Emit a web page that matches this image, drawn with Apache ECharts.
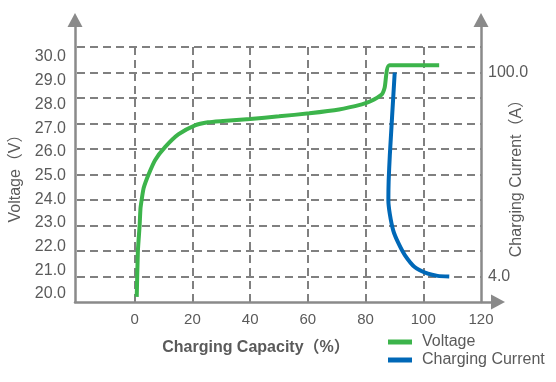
<!DOCTYPE html>
<html>
<head>
<meta charset="utf-8">
<script src="https://cdn.jsdelivr.net/npm/echarts@6/dist/echarts.min.js"></script>
<style>html,body{margin:0;padding:0;background:#fff;}#c{width:556px;height:382px;}</style>
</head>
<body>
<div id="c"></div>
<script>
// ---- data ----
const voltageX = [0.7, 1.1, 1.7, 2.0, 2.4, 3.1, 4.8, 7.1, 10.5, 15.1, 20.9, 25.4, 30.6, 40, 50, 60.5, 70.8, 78.7, 81.5, 85.6, 86.6, 88.3, 105.5];
const voltageY = [20.2, 22.0, 23.0, 23.67, 24.0, 24.47, 25.0, 25.57, 26.07, 26.57, 26.93, 27.05, 27.1, 27.18, 27.28, 27.4, 27.55, 27.75, 27.86, 28.14, 28.4, 29.28, 29.28];
const currentX = [90.1, 88.4, 88.0, 87.9, 88.4, 89.6, 91.3, 93.6, 97.0, 101.6, 105, 109];
const currentY = [100, 61, 49, 40, 33.4, 25.6, 19.9, 14.1, 8.5, 5.3, 4.3, 4.0];
const xTicks = [0, 20, 40, 60, 80, 100, 120];
const leftTicks = [20, 21, 22, 23, 24, 25, 26, 27, 28, 29, 30];
const rightTicks = [4, 100];
const seriesNames = ['Voltage', 'Charging Current'];

const FONT = "'Liberation Sans', 'Noto Sans CJK SC', sans-serif";
const GRAY = '#8a8a8a';
const GRID_LINE = { show: true, lineStyle: { color: '#808080', width: 2, type: [8, 5] } };
const LABEL_COLOR = '#5a5a5a';

const chart = echarts.init(document.getElementById('c'));
chart.setOption({
  animation: false,
  backgroundColor: '#fff',
  textStyle: { fontFamily: FONT },
  grid: [
    { left: 75, right: 75, top: 47, bottom: 80 },   // data grid
    { left: 75, right: 75, top: 20, bottom: 80 },   // frame (vertical axes with arrows)
    { left: 75, right: 58, top: 20, bottom: 80 },   // x-axis with arrow
    { left: 75, right: 75, top: 57, bottom: 88 }    // left tick labels
  ],
  legend: {
    data: seriesNames,
    orient: 'vertical',
    left: 388, top: 334, padding: 0,
    icon: 'rect', itemWidth: 24, itemHeight: 5, itemGap: 2,
    textStyle: { fontSize: 16, color: LABEL_COLOR, fontFamily: FONT, padding: [0, 0, 0, 5] }
  },
  xAxis: [
    {
      gridIndex: 0, type: 'value', min: -20, max: 120, interval: 20,
      axisLine: { show: false }, axisTick: { show: false },
      axisLabel: {
        fontSize: 15, color: LABEL_COLOR, margin: 10, fontFamily: FONT,
        formatter: v => xTicks.includes(v) ? String(v) : ''
      },
      splitLine: Object.assign({ showMinLine: false, showMaxLine: false }, GRID_LINE),
      name: 'Charging Capacity（%）', nameLocation: 'middle', nameGap: 38, nameMoveOverlap: false,
      nameTextStyle: { fontSize: 16, fontWeight: 'bold', color: '#5a5a5a', fontFamily: FONT, padding: [0, 46, 0, 0] }
    },
    { gridIndex: 1, type: 'value', min: 0, max: 1, show: false },
    {
      gridIndex: 2, type: 'value', min: 0, max: 1,
      axisLine: { show: true, lineStyle: { color: GRAY, width: 2.5 }, symbol: ['none', 'triangle'], symbolSize: [15, 14] },
      axisTick: { show: false }, axisLabel: { show: false }, splitLine: { show: false }
    },
    { gridIndex: 3, type: 'value', min: 0, max: 1, show: false }
  ],
  yAxis: [
    {
      gridIndex: 0, type: 'value', min: 20, max: 30, interval: 1,
      axisLine: { show: false }, axisTick: { show: false }, axisLabel: { show: false },
      splitLine: Object.assign({ showMinLine: false }, GRID_LINE),
      name: 'Voltage（V）', nameLocation: 'middle', nameGap: 53, nameRotate: 90, nameMoveOverlap: false,
      nameTextStyle: { fontSize: 16, color: '#5a5a5a', fontFamily: FONT }
    },
    {
      gridIndex: 0, type: 'value', position: 'right', min: -8, max: 112, interval: 12,
      axisLine: { show: false }, axisTick: { show: false }, splitLine: { show: false },
      axisLabel: {
        fontSize: 16, color: LABEL_COLOR, margin: 7, fontFamily: FONT,
        formatter: v => rightTicks.includes(v) ? v.toFixed(1) : ''
      },
      name: 'Charging Current（A）', nameLocation: 'middle', nameGap: 28, nameRotate: 90, nameMoveOverlap: false,
      nameTextStyle: { fontSize: 16, color: '#5a5a5a', fontFamily: FONT }
    },
    {
      gridIndex: 1, type: 'value', min: 0, max: 1, position: 'left',
      axisLine: { show: true, lineStyle: { color: GRAY, width: 2.5 }, symbol: ['none', 'triangle'], symbolSize: [15, 14] },
      axisTick: { show: false }, axisLabel: { show: false }, splitLine: { show: false }
    },
    {
      gridIndex: 1, type: 'value', min: 0, max: 1, position: 'right',
      axisLine: { show: true, lineStyle: { color: GRAY, width: 2.5 }, symbol: ['none', 'triangle'], symbolSize: [15, 14] },
      axisTick: { show: false }, axisLabel: { show: false }, splitLine: { show: false }
    },
    { gridIndex: 2, type: 'value', min: 0, max: 1, show: false },
    {
      gridIndex: 3, type: 'value', min: 20, max: 30, interval: 1,
      axisLine: { show: false }, axisTick: { show: false }, splitLine: { show: false },
      axisLabel: {
        fontSize: 16, color: LABEL_COLOR, margin: 9, fontFamily: FONT,
        formatter: v => leftTicks.includes(v) ? v.toFixed(1) : ''
      }
    }
  ],
  series: [
    {
      name: seriesNames[0], type: 'line', xAxisIndex: 0, yAxisIndex: 0,
      data: voltageX.map((x, i) => [x, voltageY[i]]),
      showSymbol: false, smooth: 0.2,
      lineStyle: { color: '#3cb44b', width: 4 }, itemStyle: { color: '#3cb44b' }, z: 5
    },
    {
      name: seriesNames[1], type: 'line', xAxisIndex: 0, yAxisIndex: 1,
      data: currentX.map((x, i) => [x, currentY[i]]),
      showSymbol: false, smooth: 0.2,
      lineStyle: { color: '#0068b7', width: 4 }, itemStyle: { color: '#0068b7' }, z: 5
    }
  ]
});
</script>
</body>
</html>
